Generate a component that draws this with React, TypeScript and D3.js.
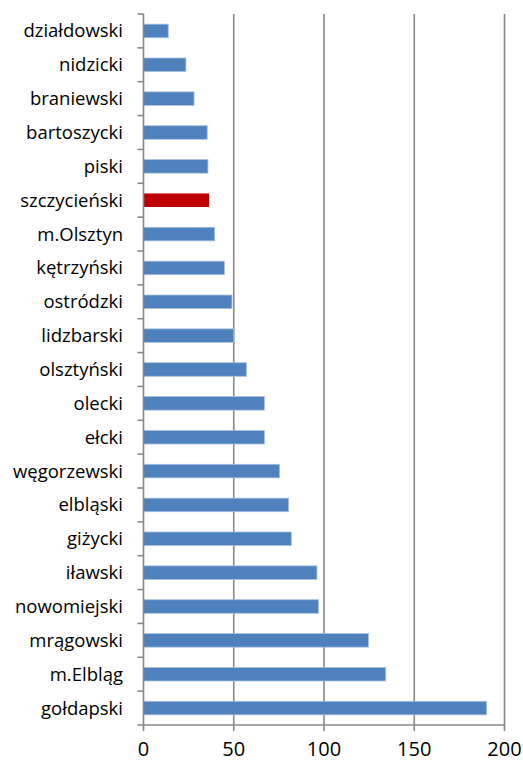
import React, { useEffect, useRef } from 'react';
import * as d3 from 'd3';

const categories = [
  'działdowski', 'nidzicki', 'braniewski', 'bartoszycki', 'piski', 'szczycieński',
  'm.Olsztyn', 'kętrzyński', 'ostródzki', 'lidzbarski', 'olsztyński', 'olecki',
  'ełcki', 'węgorzewski', 'elbląski', 'giżycki', 'iławski', 'nowomiejski',
  'mrągowski', 'm.Elbląg', 'gołdapski',
];
const values = [
  13.7, 23.5, 28, 35.3, 35.7, 36.3, 39.4, 44.8, 49, 50, 57, 67, 67, 75.4, 80.4,
  81.9, 96.1, 96.9, 124.6, 134.2, 190.1,
];
const highlighted = 'szczycieński';
const xTicks = [0, 50, 100, 150, 200];

const App = () => {
  const ref = useRef<SVGSVGElement>(null);

  useEffect(() => {
    const width = 523;
    const height = 762;
    const left = 143.5;
    const right = 504.5;
    const top = 14;
    const bottom = 725;

    const svg = d3.select(ref.current);
    svg.selectAll('*').remove();

    const x = d3.scaleLinear().domain([0, 200]).range([left, right]);
    const y = d3.scaleBand().domain(categories).range([top, bottom]).paddingInner(0.6).paddingOuter(0.3);
    const band = d3.scaleBand().domain(categories).range([top, bottom]);

    // vertical gridlines
    svg.append('g')
      .selectAll('line')
      .data(xTicks.slice(1))
      .enter()
      .append('line')
      .attr('x1', d => x(d))
      .attr('x2', d => x(d))
      .attr('y1', top)
      .attr('y2', bottom)
      .attr('stroke', '#888')
      .attr('stroke-width', 1.6);

    // bars
    svg.append('g')
      .selectAll('rect')
      .data(categories)
      .enter()
      .append('rect')
      .attr('x', x(0))
      .attr('y', d => y(d)!)
      .attr('width', (d, i) => x(values[i]) - x(0))
      .attr('height', y.bandwidth())
      .attr('fill', d => (d === highlighted ? '#C00000' : '#4F81BD'))
      .attr('stroke', d => (d === highlighted ? 'none' : '#A7C0DE'))
      .attr('stroke-width', 0.8);

    // x axis
    const xAxis = svg.append('g');
    xAxis.append('line')
      .attr('x1', left).attr('x2', right)
      .attr('y1', bottom).attr('y2', bottom)
      .attr('stroke', '#888').attr('stroke-width', 1.6);
    xAxis.selectAll('line.tick')
      .data(xTicks)
      .enter()
      .append('line')
      .attr('class', 'tick')
      .attr('x1', d => x(d)).attr('x2', d => x(d))
      .attr('y1', bottom).attr('y2', bottom + 6)
      .attr('stroke', '#888').attr('stroke-width', 1.6);
    xAxis.selectAll('text')
      .data(xTicks)
      .enter()
      .append('text')
      .attr('x', d => x(d))
      .attr('y', 756)
      .attr('text-anchor', 'middle')
      .attr('font-family', "'Open Sans', sans-serif")
      .attr('font-size', 20)
      .attr('fill', '#000')
      .text(d => d);

    // y axis
    const yAxis = svg.append('g');
    yAxis.append('line')
      .attr('x1', left).attr('x2', left)
      .attr('y1', top).attr('y2', bottom)
      .attr('stroke', '#888').attr('stroke-width', 1.6);
    const boundaries = categories.map(c => band(c)!).concat([bottom]);
    yAxis.selectAll('line.tick')
      .data(boundaries)
      .enter()
      .append('line')
      .attr('class', 'tick')
      .attr('x1', left - 6).attr('x2', left)
      .attr('y1', d => d).attr('y2', d => d)
      .attr('stroke', '#888').attr('stroke-width', 1.6);
    yAxis.selectAll('text')
      .data(categories)
      .enter()
      .append('text')
      .attr('x', 123)
      .attr('y', d => band(d)! + band.bandwidth() / 2)
      .attr('dy', '0.35em')
      .attr('text-anchor', 'end')
      .attr('font-family', "'Open Sans', sans-serif")
      .attr('font-size', 18.5)
      .attr('fill', '#000')
      .text(d => d);

    svg.attr('width', width).attr('height', height);
  }, []);

  return (
    <svg
      ref={ref}
      width={523}
      height={762}
      style={{ position: 'absolute', left: 0, top: 0, background: '#fff' }}
    />
  );
};

export default App;
